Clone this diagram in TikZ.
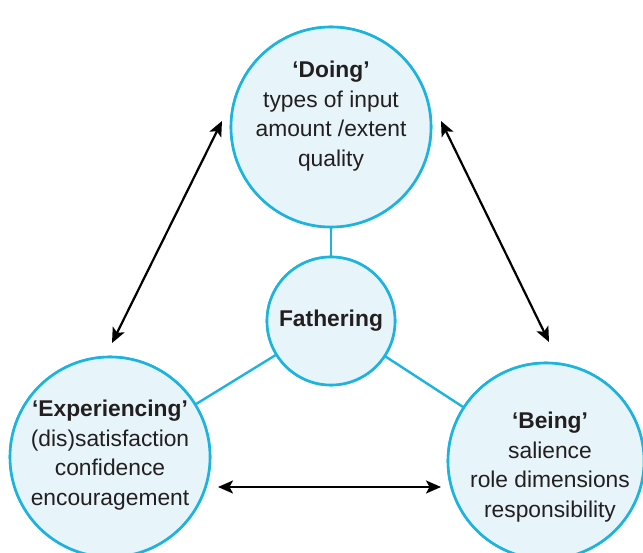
\documentclass[tikz,border=0pt]{standalone}
\usepackage{fontspec}
\setmainfont{Liberation Sans}
\usetikzlibrary{arrows.meta}
\definecolor{ring}{HTML}{1CB4DF}
\definecolor{disc}{HTML}{E7F5FA}
\definecolor{ink}{HTML}{231F20}
\tikzset{
  bubble/.style={circle, draw=ring, fill=disc, line width=2.6pt, inner sep=0pt},
  txt/.style={align=center, text=ink, font=\fontsize{22.8}{29.5}\selectfont},
  link/.style={draw=ring, line width=2.4pt},
  both/.style={draw=black, line width=2.2pt, {Stealth[length=15pt,width=13pt,inset=3.5pt]}-{Stealth[length=15pt,width=13pt,inset=3.5pt]}}
}
\begin{document}
\begin{tikzpicture}[x=1pt,y=-1pt]
\useasboundingbox (0,0) rectangle (643,553);
\node[bubble, minimum size=200pt] (doing) at (331,127) {};
\node[bubble, minimum size=128pt] (fath) at (331,321) {};
\node[bubble, minimum size=200pt] (exp) at (110,457) {};
\node[bubble, minimum size=196pt] (being) at (546,461) {};
\draw[link] (doing) -- (fath);
\draw[link] (fath) -- (exp);
\draw[link] (fath) -- (being);
\node[bubble, minimum size=200pt] at (331,127) {};
\node[bubble, minimum size=128pt] at (331,321) {};
\node[bubble, minimum size=200pt] at (110,457) {};
\node[bubble, minimum size=196pt] at (546,461) {};
\node[txt] (tdoing) at (331,116) {\textbf{‘Doing’}\\types of input\\amount /extent\\quality};
\node[txt] (tfath) at (331,321) {\textbf{Fathering}};
\node[txt] (texp) at (110,455) {\textbf{‘Experiencing’}\\(dis)satisfaction\\confidence\\encouragement};
\node[txt] (tbeing) at (550,467) {\textbf{‘Being’}\\salience\\role dimensions\\responsibility};
\coordinate (a1) at (222,121);
\coordinate (a2) at (112,343);
\coordinate (b1) at (441,121);
\coordinate (b2) at (549,342);
\coordinate (c1) at (218,487);
\coordinate (c2) at (441,487);
\draw[both] (a1) -- (a2);
\draw[both] (b1) -- (b2);
\draw[both] (c1) -- (c2);
\end{tikzpicture}
\end{document}
